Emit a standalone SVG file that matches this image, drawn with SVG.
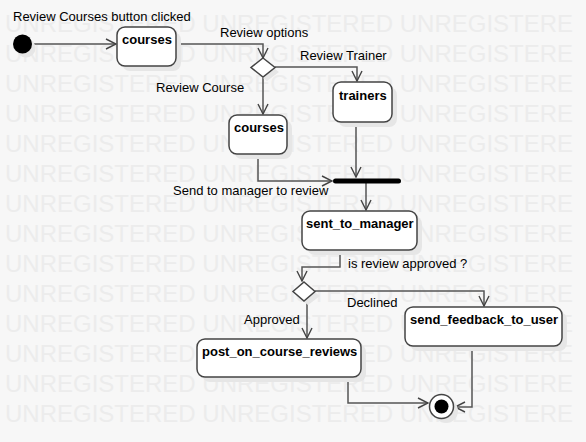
<svg xmlns="http://www.w3.org/2000/svg" width="586" height="442" viewBox="0 0 586 442">
<defs>
<style>
.wm{font-family:"Liberation Sans",Arial,sans-serif;font-size:24px;fill:#ececec}
.lbl{font-family:"Liberation Sans",Arial,sans-serif;font-size:13px;fill:#000}
.nt{font-family:"Liberation Sans",Arial,sans-serif;font-size:13px;font-weight:bold;fill:#000}
.box{fill:#fff;stroke:#444;stroke-width:1.5}
.sh{fill:#e6e6e6}
.ln{fill:none;stroke:#555;stroke-width:1.5}
</style>
<marker id="arr" viewBox="0 0 12 12" refX="11" refY="6" markerWidth="12" markerHeight="12" markerUnits="userSpaceOnUse" orient="auto">
<path d="M1,1 L11,6 L1,11" fill="none" stroke="#444" stroke-width="1.4"/>
</marker>
</defs>
<rect width="586" height="442" fill="#f7f7f7"/>
<g id="watermark">
<text class="wm" x="5" y="32">UNREGISTERED UNREGISTERED UNREGISTERE</text>
<text class="wm" x="5" y="62">UNREGISTERED UNREGISTERED UNREGISTERE</text>
<text class="wm" x="5" y="92">UNREGISTERED UNREGISTERED UNREGISTERE</text>
<text class="wm" x="5" y="122">UNREGISTERED UNREGISTERED UNREGISTERE</text>
<text class="wm" x="5" y="152">UNREGISTERED UNREGISTERED UNREGISTERE</text>
<text class="wm" x="5" y="182">UNREGISTERED UNREGISTERED UNREGISTERE</text>
<text class="wm" x="5" y="212">UNREGISTERED UNREGISTERED UNREGISTERE</text>
<text class="wm" x="5" y="242">UNREGISTERED UNREGISTERED UNREGISTERE</text>
<text class="wm" x="5" y="272">UNREGISTERED UNREGISTERED UNREGISTERE</text>
<text class="wm" x="5" y="302">UNREGISTERED UNREGISTERED UNREGISTERE</text>
<text class="wm" x="5" y="332">UNREGISTERED UNREGISTERED UNREGISTERE</text>
<text class="wm" x="5" y="362">UNREGISTERED UNREGISTERED UNREGISTERE</text>
<text class="wm" x="5" y="392">UNREGISTERED UNREGISTERED UNREGISTERE</text>
<text class="wm" x="5" y="422">UNREGISTERED UNREGISTERED UNREGISTERE</text>
</g>

<g id="connectors">
<path class="ln" d="M32,44 L116,44" marker-end="url(#arr)"/>
<path class="ln" d="M176,44 L263,44 L263,58" marker-end="url(#arr)"/>
<path class="ln" d="M275,67 L357,67 L357,81" marker-end="url(#arr)"/>
<path class="ln" d="M263,77 L263,114" marker-end="url(#arr)"/>
<path class="ln" d="M258,154 L258,181 L332,181" marker-end="url(#arr)"/>
<path class="ln" d="M356,122 L356,177" marker-end="url(#arr)"/>
<path class="ln" d="M366,183 L366,210" marker-end="url(#arr)"/>
<path class="ln" d="M340,250 L340,267 L302,267 L302,281" marker-end="url(#arr)"/>
<path class="ln" d="M315,291 L484,291 L484,306" marker-end="url(#arr)"/>
<path class="ln" d="M307,301 L307,338" marker-end="url(#arr)"/>
<path class="ln" d="M348,377 L348,403 L428,403" marker-end="url(#arr)"/>
<path class="ln" d="M472,346 L472,407 L455,407" marker-end="url(#arr)"/>
<text class="lbl" x="13" y="21">Review Courses button clicked</text>
<text class="lbl" x="220" y="37">Review options</text>
<text class="lbl" x="300" y="60">Review Trainer</text>
<text class="lbl" x="156" y="92">Review Course</text>
<text class="lbl" x="173" y="195">Send to manager to review</text>
<text class="lbl" x="348" y="268">is review approved ?</text>
<text class="lbl" x="347" y="307">Declined</text>
<text class="lbl" x="244" y="324">Approved</text>
</g>

<g id="start">
<circle cx="26" cy="48" r="9.5" fill="#e6e6e6"/>
<circle cx="22.5" cy="44" r="9.5" fill="#000"/>
</g>
<g id="courses1">
<rect class="sh" x="122" y="32" width="59" height="39" rx="8"/>
<rect class="box" x="117" y="27" width="59" height="39" rx="8"/>
<text class="nt" x="122" y="44">courses</text>
</g>
<g id="decision1">
<polygon points="267,63 279,72 267,81 255,72" fill="#e6e6e6"/>
<polygon points="263,58 275,67.5 263,77 251,67.5" fill="#fff" stroke="#444" stroke-width="1.5"/>
</g>
<g id="trainers">
<rect class="sh" x="338" y="87" width="59" height="40" rx="8"/>
<rect class="box" x="333" y="82" width="59" height="40" rx="8"/>
<text class="nt" x="339" y="100">trainers</text>
</g>
<g id="courses2">
<rect class="sh" x="234" y="120" width="58" height="39" rx="8"/>
<rect class="box" x="229" y="115" width="58" height="39" rx="8"/>
<text class="nt" x="234" y="132">courses</text>
</g>
<g id="join">
<rect x="333" y="178.5" width="68" height="5" rx="2.5" fill="#000"/>
</g>
<g id="sent_to_manager">
<rect class="sh" x="307" y="216" width="115" height="39" rx="8"/>
<rect class="box" x="302" y="211" width="115" height="39" rx="8"/>
<text class="nt" x="306" y="228">sent_to_manager</text>
</g>
<g id="decision2">
<polygon points="308,287 320,296 308,305 296,296" fill="#e6e6e6"/>
<polygon points="304,282 315,291.5 304,301 293,291.5" fill="#fff" stroke="#444" stroke-width="1.5"/>
</g>
<g id="send_feedback_to_user">
<rect class="sh" x="410" y="312" width="157" height="39" rx="8"/>
<rect class="box" x="405" y="307" width="157" height="39" rx="8"/>
<text class="nt" x="410" y="324">send_feedback_to_user</text>
</g>
<g id="post_on_course_reviews">
<rect class="sh" x="202" y="344" width="164" height="38" rx="8"/>
<rect class="box" x="197" y="339" width="164" height="38" rx="8"/>
<text class="nt" x="202" y="356">post_on_course_reviews</text>
</g>
<g id="end">
<circle cx="446" cy="411" r="12" fill="#e6e6e6"/>
<circle cx="441.5" cy="406.5" r="12" fill="#fff" stroke="#444" stroke-width="1.5"/>
<circle cx="441.5" cy="406.5" r="7" fill="#000"/>
</g>
</svg>
